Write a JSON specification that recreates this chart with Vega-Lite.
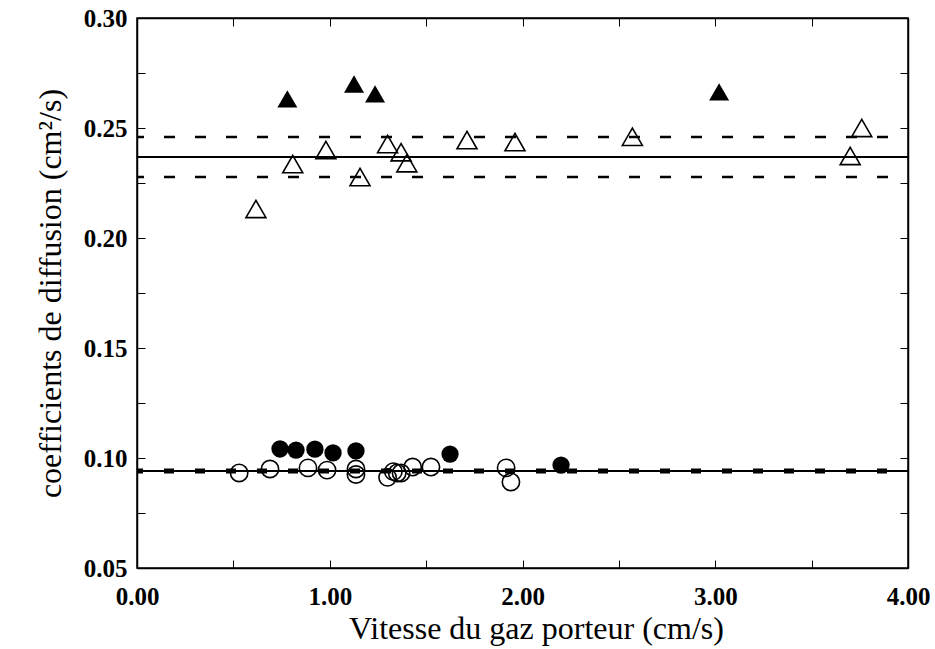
{
  "$schema": "https://vega.github.io/schema/vega-lite/v6.json",
  "width": 771,
  "height": 550,
  "autosize": "none",
  "padding": {"left": 137, "top": 18, "right": 27, "bottom": 81},
  "background": "white",
  "config": {
    "view": {"stroke": "black", "strokeWidth": 1.5},
    "axis": {"grid": false, "domainColor": "black", "tickColor": "black", "labelColor": "black", "titleColor": "black", "labelFont": "Liberation Serif", "titleFont": "Liberation Serif", "labelFontWeight": "bold", "titleFontWeight": "normal", "labelFontSize": 25, "titleFontSize": 32, "tickSize": -8, "tickWidth": 1, "domainWidth": 1.5}
  },
  "datasets": {
    "points": [
      {"v": 0.617, "D": 0.2132, "marker": "triangle", "fillkind": "open"},
      {"v": 0.808, "D": 0.2336, "marker": "triangle", "fillkind": "open"},
      {"v": 0.98, "D": 0.2400, "marker": "triangle", "fillkind": "open"},
      {"v": 1.157, "D": 0.2277, "marker": "triangle", "fillkind": "open"},
      {"v": 1.30, "D": 0.2427, "marker": "triangle", "fillkind": "open"},
      {"v": 1.37, "D": 0.2390, "marker": "triangle", "fillkind": "open"},
      {"v": 1.40, "D": 0.2340, "marker": "triangle", "fillkind": "open"},
      {"v": 1.712, "D": 0.2445, "marker": "triangle", "fillkind": "open"},
      {"v": 1.961, "D": 0.2436, "marker": "triangle", "fillkind": "open"},
      {"v": 2.57, "D": 0.2460, "marker": "triangle", "fillkind": "open"},
      {"v": 3.70, "D": 0.2373, "marker": "triangle", "fillkind": "open"},
      {"v": 3.76, "D": 0.2500, "marker": "triangle", "fillkind": "open"},
      {"v": 0.78, "D": 0.2632, "marker": "triangle", "fillkind": "filled"},
      {"v": 1.126, "D": 0.2700, "marker": "triangle", "fillkind": "filled"},
      {"v": 1.235, "D": 0.2655, "marker": "triangle", "fillkind": "filled"},
      {"v": 3.02, "D": 0.2664, "marker": "triangle", "fillkind": "filled"},
      {"v": 0.742, "D": 0.1041, "marker": "circle", "fillkind": "filled"},
      {"v": 0.825, "D": 0.1036, "marker": "circle", "fillkind": "filled"},
      {"v": 0.923, "D": 0.1040, "marker": "circle", "fillkind": "filled"},
      {"v": 1.017, "D": 0.1023, "marker": "circle", "fillkind": "filled"},
      {"v": 1.136, "D": 0.1032, "marker": "circle", "fillkind": "filled"},
      {"v": 1.624, "D": 0.1018, "marker": "circle", "fillkind": "filled"},
      {"v": 2.20, "D": 0.0968, "marker": "circle", "fillkind": "filled"},
      {"v": 0.53, "D": 0.0932, "marker": "circle", "fillkind": "open"},
      {"v": 0.69, "D": 0.0950, "marker": "circle", "fillkind": "open"},
      {"v": 0.887, "D": 0.0955, "marker": "circle", "fillkind": "open"},
      {"v": 0.986, "D": 0.0945, "marker": "circle", "fillkind": "open"},
      {"v": 1.136, "D": 0.0950, "marker": "circle", "fillkind": "open"},
      {"v": 1.136, "D": 0.0925, "marker": "circle", "fillkind": "open"},
      {"v": 1.30, "D": 0.0912, "marker": "circle", "fillkind": "open"},
      {"v": 1.33, "D": 0.0938, "marker": "circle", "fillkind": "open"},
      {"v": 1.35, "D": 0.0932, "marker": "circle", "fillkind": "open"},
      {"v": 1.37, "D": 0.0932, "marker": "circle", "fillkind": "open"},
      {"v": 1.43, "D": 0.0959, "marker": "circle", "fillkind": "open"},
      {"v": 1.525, "D": 0.0959, "marker": "circle", "fillkind": "open"},
      {"v": 1.915, "D": 0.0955, "marker": "circle", "fillkind": "open"},
      {"v": 1.94, "D": 0.0891, "marker": "circle", "fillkind": "open"}
    ],
    "fits": [
      {"v": 0, "D": 0.2368, "series": "tri"},
      {"v": 4, "D": 0.2368, "series": "tri"},
      {"v": 0, "D": 0.0941, "series": "circ"},
      {"v": 4, "D": 0.0941, "series": "circ"}
    ],
    "bandsTri": [
      {"v": 0, "D": 0.2459, "side": "upper"},
      {"v": 4, "D": 0.2459, "side": "upper"},
      {"v": 0, "D": 0.2277, "side": "lower"},
      {"v": 4, "D": 0.2277, "side": "lower"}
    ],
    "bandsCirc": [
      {"v": 0, "D": 0.0941, "side": "mid"},
      {"v": 4, "D": 0.0941, "side": "mid"}
    ]
  },
  "layer": [
    {
      "data": {"name": "fits"},
      "mark": {"type": "line", "color": "black", "strokeWidth": 2},
      "encoding": {
        "x": {"field": "v", "type": "quantitative", "scale": {"domain": [0, 4], "nice": false, "zero": false},
          "axis": {"orient": "bottom", "title": "Vitesse du gaz porteur (cm/s)", "values": [0, 0.5, 1, 1.5, 2, 2.5, 3, 3.5, 4], "labelExpr": "datum.value % 1 == 0 ? format(datum.value, '.2f') : ''", "labelPadding": 24, "titlePadding": 4, "titleX": 399, "labelFlush": false}},
        "y": {"field": "D", "type": "quantitative", "scale": {"domain": [0.05, 0.30], "nice": false, "zero": false},
          "axis": {"orient": "left", "title": "coefficients de diffusion (cm²/s)", "values": [0.05, 0.075, 0.1, 0.125, 0.15, 0.175, 0.2, 0.225, 0.25, 0.275, 0.3], "labelExpr": "round(datum.value * 1000) % 50 == 0 ? format(datum.value, '.2f') : ''", "labelPadding": 18, "titlePadding": 16, "labelFlush": false}},
        "detail": {"field": "series"}
      }
    },
    {
      "data": {"name": "bandsTri"},
      "mark": {"type": "line", "color": "black", "strokeWidth": 2.5, "strokeDash": [11, 20], "strokeDashOffset": 4},
      "encoding": {
        "x": {"field": "v", "type": "quantitative", "scale": {"domain": [0, 4], "nice": false, "zero": false},
          "axis": {"orient": "top", "title": null, "values": [0, 0.5, 1, 1.5, 2, 2.5, 3, 3.5, 4], "labels": false}},
        "y": {"field": "D", "type": "quantitative", "scale": {"domain": [0.05, 0.30], "nice": false, "zero": false},
          "axis": {"orient": "right", "title": null, "values": [0.05, 0.075, 0.1, 0.125, 0.15, 0.175, 0.2, 0.225, 0.25, 0.275, 0.3], "labels": false}},
        "detail": {"field": "side"}
      }
    },
    {
      "data": {"name": "bandsCirc"},
      "mark": {"type": "line", "color": "black", "strokeWidth": 5, "strokeDash": [10, 21], "strokeDashOffset": 4},
      "encoding": {
        "x": {"field": "v", "type": "quantitative", "axis": null},
        "y": {"field": "D", "type": "quantitative", "axis": null},
        "detail": {"field": "side"}
      }
    },
    {
      "data": {"name": "points"},
      "transform": [{"filter": "datum.fillkind == 'open'"}],
      "mark": {"type": "point", "filled": false, "color": "black", "strokeWidth": 1.6, "opacity": 1},
      "encoding": {
        "x": {"field": "v", "type": "quantitative", "axis": null},
        "y": {"field": "D", "type": "quantitative", "axis": null},
        "shape": {"field": "marker", "type": "nominal", "scale": {"domain": ["triangle", "circle"], "range": ["triangle-up", "circle"]}, "legend": null},
        "size": {"field": "marker", "type": "nominal", "scale": {"domain": ["triangle", "circle"], "range": [400, 300]}, "legend": null}
      }
    },
    {
      "data": {"name": "points"},
      "transform": [{"filter": "datum.fillkind == 'filled'"}],
      "mark": {"type": "point", "filled": true, "color": "black", "opacity": 1},
      "encoding": {
        "x": {"field": "v", "type": "quantitative", "axis": null},
        "y": {"field": "D", "type": "quantitative", "axis": null},
        "shape": {"field": "marker", "type": "nominal", "scale": {"domain": ["triangle", "circle"], "range": ["triangle-up", "circle"]}, "legend": null},
        "size": {"field": "marker", "type": "nominal", "scale": {"domain": ["triangle", "circle"], "range": [400, 360]}, "legend": null}
      }
    }
  ],
  "resolve": {"axis": {"x": "independent", "y": "independent"}}
}
